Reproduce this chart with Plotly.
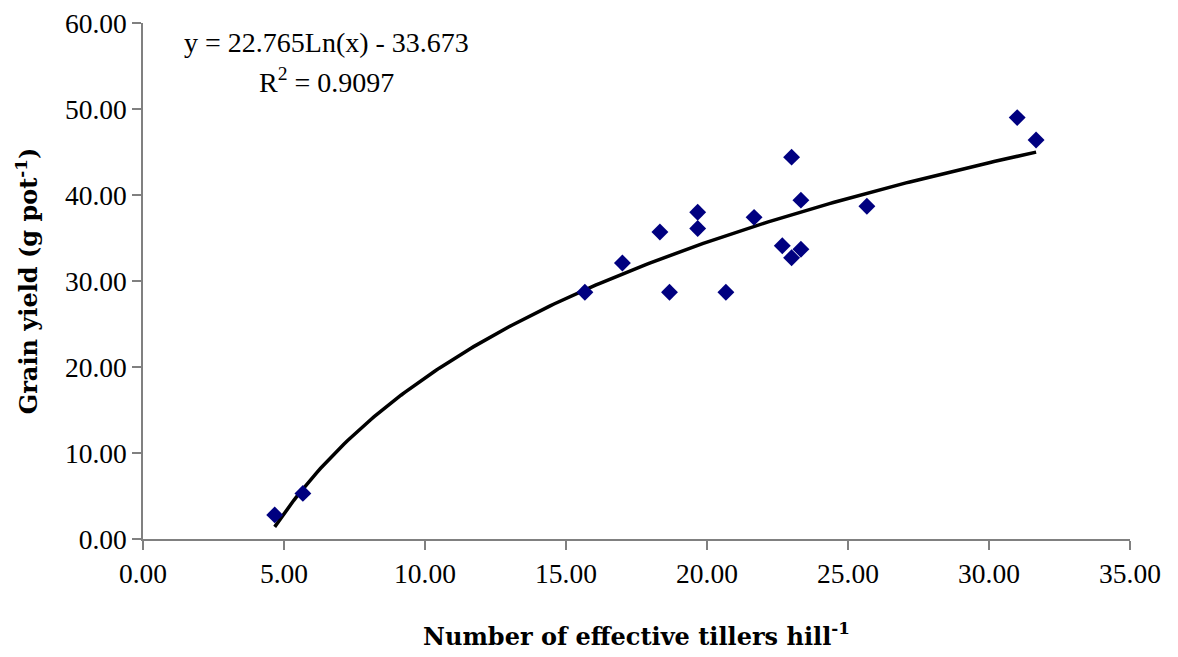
import numpy as np
import plotly.graph_objects as go

tillers = [4.67, 5.67, 15.67, 17.00, 18.33, 18.67, 19.67, 19.67, 20.67, 21.67,
           22.67, 23.00, 23.00, 23.33, 23.33, 25.67, 31.00, 31.67]
grain_yield = [2.8, 5.3, 28.7, 32.1, 35.7, 28.7, 38.0, 36.1, 28.7, 37.4,
               34.1, 44.4, 32.7, 39.4, 33.7, 38.7, 49.0, 46.4]

coef_a = 22.765
coef_b = -33.673
r2 = 0.9097

x_fit = np.linspace(min(tillers), max(tillers), 200)
y_fit = coef_a * np.log(x_fit) + coef_b

FONT = "Liberation Serif"
TITLE_FONT = "DejaVu Serif"

fig = go.Figure()
fig.add_trace(go.Scatter(x=x_fit, y=y_fit, mode="lines",
                         line=dict(color="black", width=3.5), showlegend=False,
                         hoverinfo="skip"))
fig.add_trace(go.Scatter(x=tillers, y=grain_yield, mode="markers",
                         marker=dict(symbol="diamond", color="#000080", size=13),
                         showlegend=False))

axis_common = dict(showline=True, linecolor="#808080", linewidth=1.5,
                   ticks="outside", tickcolor="#808080", ticklen=9, tickwidth=1.5,
                   showgrid=False, zeroline=False, automargin=False,
                   tickfont=dict(family=FONT, size=27.5, color="black"))

fig.update_xaxes(range=[0, 35], dtick=5, tickformat=".2f",
                 title=dict(text="<b>Number of effective tillers hill<sup>-1</sup></b>",
                            font=dict(family=TITLE_FONT, size=24, color="black"), standoff=40),
                 **axis_common)
fig.update_yaxes(range=[0, 60], dtick=10, tickformat=".2f",
                 title=dict(text="<b>Grain yield (g pot<sup>-1</sup>)</b>",
                            font=dict(family=TITLE_FONT, size=24, color="black"), standoff=20),
                 **axis_common)

fig.add_annotation(x=6.5, y=57.7, xref="x", yref="y", showarrow=False,
                   text=f"y = {coef_a}Ln(x) - {abs(coef_b)}",
                   font=dict(family=FONT, size=28, color="black"))
fig.add_annotation(x=6.5, y=53.3, xref="x", yref="y", showarrow=False,
                   text=f"R<sup>2</sup> = {r2}",
                   font=dict(family=FONT, size=28, color="black"))

fig.update_layout(width=1178, height=657, plot_bgcolor="white", paper_bgcolor="white",
                  margin=dict(l=143, r=48, t=23, b=118))

fig.write_html("out.html")
